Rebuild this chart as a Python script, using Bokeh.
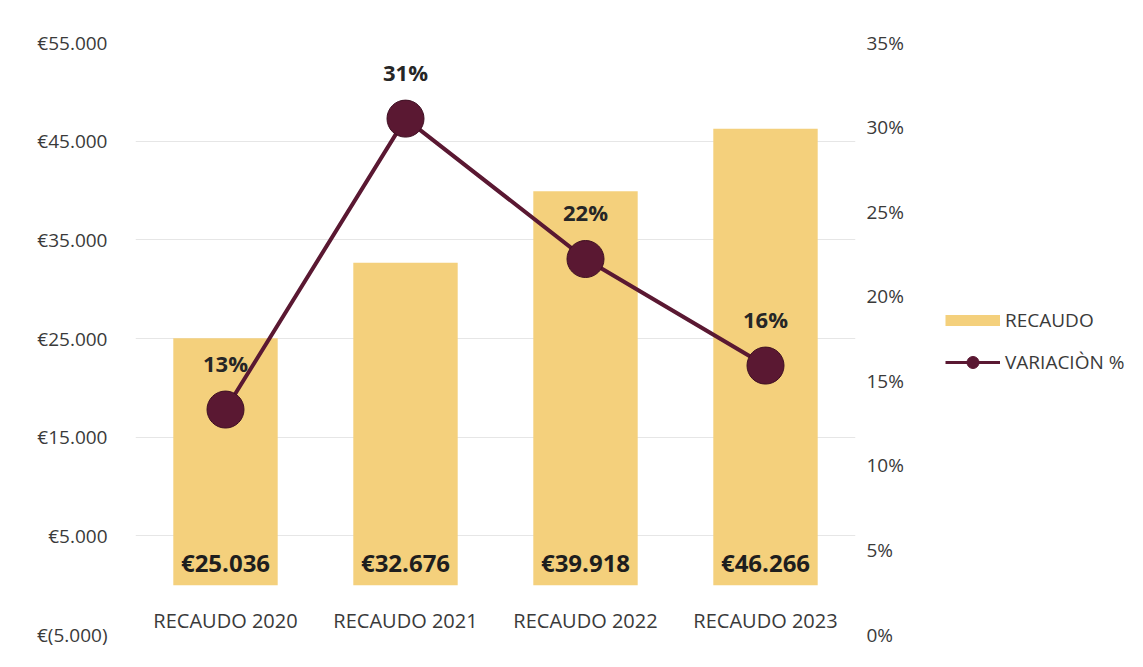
from bokeh.plotting import figure
from bokeh.layouts import row
from bokeh.models import (Range1d, FactorRange, LinearAxis, FixedTicker, ColumnDataSource,
                          Legend, LegendItem)
from bokeh.core.properties import value
from bokeh.embed import file_html
from bokeh.resources import INLINE

categories = ["RECAUDO 2020", "RECAUDO 2021", "RECAUDO 2022", "RECAUDO 2023"]
recaudo = [25036, 32676, 39918, 46266]
recaudo_labels = ["€25.036", "€32.676", "€39.918", "€46.266"]
variacion = [13.3, 30.5, 22.2, 15.9]
variacion_labels = ["13%", "31%", "22%", "16%"]

left_ticks = [-5000, 5000, 15000, 25000, 35000, 45000, 55000]
left_tick_labels = ["€(5.000)", "€5.000", "€15.000", "€25.000", "€35.000", "€45.000", "€55.000"]
right_ticks = [0, 5, 10, 15, 20, 25, 30, 35]
right_tick_labels = ["0%", "5%", "10%", "15%", "20%", "25%", "30%", "35%"]
legend_labels = ["RECAUDO", "VARIACIÒN %"]

BAR = "#F4D07C"
WINE = "#5A1832"
TXT = "#3a3a3a"
FONT = "Open Sans"

src = ColumnDataSource(dict(cat=categories, rec=recaudo, rec_lab=recaudo_labels,
                            var=variacion, var_lab=variacion_labels))

p = figure(x_range=FactorRange(*categories), y_range=Range1d(-5000, 55000),
           frame_width=720, frame_height=592,
           min_border_left=135, min_border_top=42, min_border_bottom=15, min_border_right=60,
           output_backend="svg", toolbar_location=None)
p.extra_y_ranges = {"pct": Range1d(0, 35)}
p.outline_line_color = None
p.background_fill_color = "white"

# left axis
ya = p.yaxis[0]
ya.ticker = FixedTicker(ticks=left_ticks)
ya.major_label_overrides = dict(zip(left_ticks, left_tick_labels))
ya.axis_line_color = None
ya.major_tick_line_color = None
ya.minor_tick_line_color = None
ya.major_label_text_font = FONT
ya.major_label_text_font_size = "19px"
ya.major_label_text_color = TXT
ya.major_label_standoff = 22

# category axis sitting at the zero line
xa = p.xaxis[0]
xa.fixed_location = 0
xa.axis_line_color = None
xa.major_tick_line_color = None
xa.major_tick_out = 0
xa.major_label_standoff = 22
xa.major_label_text_font = FONT
xa.major_label_text_font_size = "20px"
xa.major_label_text_color = TXT

# right axis
ra = LinearAxis(y_range_name="pct", ticker=FixedTicker(ticks=right_ticks))
ra.major_label_overrides = dict(zip(right_ticks, right_tick_labels))
ra.axis_line_color = None
ra.major_tick_line_color = None
ra.minor_tick_line_color = None
ra.major_label_text_font = FONT
ra.major_label_text_font_size = "19px"
ra.major_label_text_color = TXT
ra.major_label_standoff = 5
p.add_layout(ra, "right")

p.xgrid.grid_line_color = None
p.ygrid.ticker = FixedTicker(ticks=left_ticks)
p.ygrid.grid_line_color = "#e6e6e6"
p.ygrid.grid_line_width = 1

bars = p.vbar(x="cat", top="rec", bottom=0, width=0.58, source=src,
              fill_color=BAR, line_color=None)

p.text(x="cat", y=0, text="rec_lab", source=src, y_offset=-23,
       text_align="center", text_baseline="middle", text_font=value(FONT),
       text_font_size="24px", text_font_style="bold", text_color="#1e1e1e")

ln = p.line(x="cat", y="var", source=src, y_range_name="pct",
            line_color=WINE, line_width=4)
mk = p.scatter(x="cat", y="var", source=src, y_range_name="pct", size=37,
               fill_color=WINE, line_color="#3e0f22", line_width=1)

p.text(x="cat", y="var", text="var_lab", source=src, y_range_name="pct", y_offset=-47,
       text_align="center", text_baseline="middle", text_font=value(FONT),
       text_font_size="22px", text_font_style="bold", text_color="#262626")

# legend in a narrow companion figure to the right (swatch renderers sit off-view)
lf = figure(width=215, height=649, x_range=Range1d(0, 1), y_range=Range1d(0, 1),
            min_border=0, output_backend="svg", toolbar_location=None)
lf.axis.visible = False
lf.grid.visible = False
lf.outline_line_color = None
off = [-10, -9]
leg_bar = lf.line(x=off, y=off, line_color=BAR, line_width=11)
leg_line = lf.line(x=off, y=off, line_color=WINE, line_width=3)
leg_mk = lf.scatter(x=off, y=off, fill_color=WINE, line_color=WINE, size=12)

legend = Legend(items=[LegendItem(label=legend_labels[0], renderers=[leg_bar]),
                       LegendItem(label=legend_labels[1], renderers=[leg_line, leg_mk])],
                location=(30, 257), glyph_width=55, glyph_height=30, spacing=12,
                padding=0, margin=0, label_standoff=5,
                border_line_color=None, background_fill_alpha=0,
                label_text_font=FONT, label_text_font_size="19px", label_text_color=TXT)
lf.add_layout(legend)

open("out.html", "w").write(file_html(row(p, lf), INLINE))
